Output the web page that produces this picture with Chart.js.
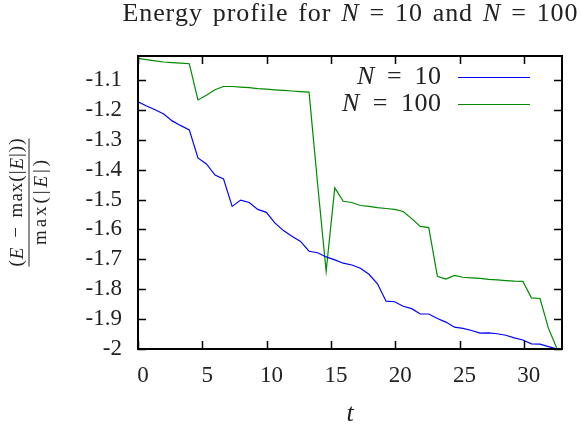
<!DOCTYPE html>
<html>
<head>
<meta charset="utf-8">
<title>Energy profile</title>
<script src="https://cdn.jsdelivr.net/npm/chart.js@4.4.0/dist/chart.umd.min.js"></script>
<style>
  body { margin: 0; background: #fff; }
  #wrap { width: 581px; height: 432px; }
</style>
</head>
<body>
<div id="wrap"><canvas id="energy" width="581" height="432"></canvas></div>
<script>
// time samples (x axis)
const tValues = [0, 0.67, 1.33, 2.0, 2.66, 3.33, 3.99, 4.66, 5.32, 5.99,
  6.65, 7.32, 7.98, 8.65, 9.31, 9.98, 10.64, 11.31, 11.97, 12.64,
  13.3, 13.97, 14.63, 15.3, 15.96, 16.63, 17.29, 17.96, 18.62, 19.29,
  19.95, 20.62, 21.28, 21.95, 22.61, 23.28, 23.94, 24.61, 25.27, 25.94,
  26.6, 27.27, 27.93, 28.6, 29.26, 29.93, 30.59, 31.26, 31.92, 32.59];

// (E - max|E|) / max|E|  for N = 10
const energyN10 = [-1.173, -1.187, -1.200, -1.214, -1.237, -1.253, -1.267, -1.361, -1.381, -1.418,
  -1.431, -1.523, -1.502, -1.510, -1.533, -1.543, -1.578, -1.604, -1.623, -1.640,
  -1.673, -1.678, -1.692, -1.702, -1.713, -1.719, -1.730, -1.750, -1.782, -1.840,
  -1.842, -1.857, -1.865, -1.883, -1.883, -1.898, -1.910, -1.927, -1.931, -1.938,
  -1.947, -1.946, -1.949, -1.954, -1.963, -1.970, -1.983, -1.984, -1.992, -2.000];

// same for N = 100
const energyN100 = [-1.028, -1.032, -1.036, -1.040, -1.042, -1.044, -1.046, -1.167, -1.151, -1.133,
  -1.122, -1.122, -1.124, -1.126, -1.129, -1.131, -1.133, -1.135, -1.137, -1.139,
  -1.141, -1.450, -1.740, -1.461, -1.506, -1.510, -1.520, -1.523, -1.527, -1.530,
  -1.533, -1.540, -1.564, -1.590, -1.594, -1.757, -1.766, -1.754, -1.760, -1.762,
  -1.764, -1.767, -1.769, -1.771, -1.773, -1.774, -1.829, -1.831, -1.931, -2.000];

const seriesNames = ['N = 10', 'N = 100'];
const seriesColors = ['#0000ff', '#008a00'];

const xTicks = [0, 5, 10, 15, 20, 25, 30];
const yTicks = [-2, -1.9, -1.8, -1.7, -1.6, -1.5, -1.4, -1.3, -1.2, -1.1];
const yTickLabels = ['-2', '-1.9', '-1.8', '-1.7', '-1.6', '-1.5', '-1.4', '-1.3', '-1.2', '-1.1'];

const serif = '"Liberation Serif", "DejaVu Serif", serif';

// draw pieces of text (some italic, the math letters), optionally spread to a given width;
// spaces take spaceWeight times the share of the extra room
function drawRuns(ctx, runs, x, y, align, size, target, spaceWeight) {
    let chars = [];
    runs.forEach(function (r) {
        ctx.font = (r[1] ? 'italic ' : '') + size + 'px ' + serif;
        for (let ch of r[0]) {
            chars.push({ ch: ch, font: ctx.font, w: ctx.measureText(ch).width });
        }
    });
    let sw = spaceWeight || 1;
    let natural = chars.reduce(function (a, c) { return a + c.w; }, 0);
    let weights = chars.map(function (c, i) {
        if (i === chars.length - 1) return 0;
        return c.ch === ' ' ? sw : 1;
    });
    let sumW = weights.reduce(function (a, b) { return a + b; }, 0) || 1;
    let unit = target ? (target - natural) / sumW : 0;
    let total = target || natural;
    let pos = x;
    if (align === 'center') pos = x - total / 2;
    if (align === 'right') pos = x - total;
    ctx.textAlign = 'left';
    chars.forEach(function (c, i) {
        ctx.font = c.font;
        ctx.fillText(c.ch, pos, y);
        pos += c.w + unit * weights[i];
    });
    return total;
}

function mathRuns(label) {
    // "N = 10" -> italic N, upright rest
    return [[label.charAt(0), true], [label.slice(1), false]];
}

const gnuplotLook = {
    id: 'gnuplotLook',
    afterDraw: function (chart) {
        const ctx = chart.ctx;
        const area = chart.chartArea;
        const xs = chart.scales.x;
        const ys = chart.scales.y;
        ctx.save();
        ctx.strokeStyle = '#000';
        ctx.fillStyle = '#222';

        // inward ticks on all four sides
        ctx.lineWidth = 1.5;
        ctx.beginPath();
        xTicks.forEach(function (v) {
            let px = Math.round(xs.getPixelForValue(v)) + 0.5;
            ctx.moveTo(px, area.bottom);
            ctx.lineTo(px, area.bottom - 8);
            ctx.moveTo(px, area.top);
            ctx.lineTo(px, area.top + 8);
        });
        yTicks.forEach(function (v) {
            let py = Math.round(ys.getPixelForValue(v)) + 0.5;
            ctx.moveTo(area.left, py);
            ctx.lineTo(area.left + 8, py);
            ctx.moveTo(area.right, py);
            ctx.lineTo(area.right - 8, py);
        });
        ctx.stroke();

        // border
        ctx.lineWidth = 2;
        ctx.strokeRect(area.left, area.top, area.right - area.left, area.bottom - area.top);

        // title
        ctx.textBaseline = 'alphabetic';
        drawRuns(ctx, [['Energy profile for ', false], ['N', true], [' = 10 and ', false],
            ['N', true], [' = 100', false]], (area.left + area.right) / 2, 21, 'center', 26, 455, 4);

        // legend
        const legendWidths = [84, 99];
        chart.data.datasets.forEach(function (ds, i) {
            let rowY = 77 + i * 27;
            ctx.textBaseline = 'middle';
            ctx.fillStyle = '#222';
            drawRuns(ctx, mathRuns(ds.label), 441, rowY, 'right', 26, legendWidths[i], 12);
            ctx.strokeStyle = ds.borderColor;
            ctx.lineWidth = 1.2;
            ctx.beginPath();
            ctx.moveTo(458, rowY + 0.5);
            ctx.lineTo(530, rowY + 0.5);
            ctx.stroke();
        });

        // x axis label
        ctx.fillStyle = '#222';
        ctx.textBaseline = 'middle';
        drawRuns(ctx, [['t', true]], (area.left + area.right) / 2, 414, 'center', 26);

        // y axis label, a fraction turned on its side
        ctx.translate(28.5, (area.top + area.bottom) / 2);
        ctx.rotate(-Math.PI / 2);
        ctx.textBaseline = 'middle';
        let numW = drawRuns(ctx, [['(', false], ['E', true], [' \u2212 max(|', false], ['E', true], ['|))', false]],
            0, -11, 'center', 19, 128, 4);
        drawRuns(ctx, [['max(|', false], ['E', true], ['|)', false]], 0, 13, 'center', 19, 85);
        ctx.strokeStyle = '#222';
        ctx.lineWidth = 1;
        ctx.beginPath();
        ctx.moveTo(-numW / 2, 0.5);
        ctx.lineTo(numW / 2, 0.5);
        ctx.stroke();
        ctx.restore();
    }
};

const chart = new Chart(document.getElementById('energy'), {
    type: 'line',
    data: {
        datasets: [{
            label: seriesNames[0],
            data: tValues.map(function (t, i) { return { x: t, y: energyN10[i] }; }),
            borderColor: seriesColors[0],
            borderWidth: 1.2,
            pointRadius: 0,
            tension: 0,
            fill: false
        }, {
            label: seriesNames[1],
            data: tValues.map(function (t, i) { return { x: t, y: energyN100[i] }; }),
            borderColor: seriesColors[1],
            borderWidth: 1.2,
            pointRadius: 0,
            tension: 0,
            fill: false
        }]
    },
    options: {
        responsive: false,
        animation: false,
        layout: {
            padding: { top: 56, right: 19, bottom: 0, left: 0 }
        },
        plugins: {
            legend: { display: false },
            title: { display: false },
            tooltip: { enabled: false }
        },
        scales: {
            x: {
                type: 'linear',
                min: 0,
                max: 32.97,
                grid: { display: false, drawTicks: false, tickLength: 0 },
                border: { display: false },
                afterBuildTicks: function (scale) {
                    scale.ticks = xTicks.map(function (v) { return { value: v }; });
                },
                afterFit: function (scale) { scale.height = 83; },
                ticks: {
                    color: '#222',
                    font: { family: serif, size: 23 },
                    padding: 13,
                    labelOffset: 5,
                    maxRotation: 0,
                    callback: function (v) { return String(v); }
                }
            },
            y: {
                min: -2,
                max: -1.02,
                grid: { display: false, drawTicks: false, tickLength: 0 },
                border: { display: false },
                afterBuildTicks: function (scale) {
                    scale.ticks = yTicks.map(function (v) { return { value: v }; });
                },
                afterFit: function (scale) { scale.width = 138; },
                ticks: {
                    color: '#222',
                    font: { family: serif, size: 23 },
                    padding: 16,
                    callback: function (v) {
                        let k = yTicks.findIndex(function (t) { return Math.abs(t - v) < 1e-6; });
                        return k >= 0 ? yTickLabels[k] : '';
                    }
                }
            }
        }
    },
    plugins: [gnuplotLook]
});
</script>
</body>
</html>
